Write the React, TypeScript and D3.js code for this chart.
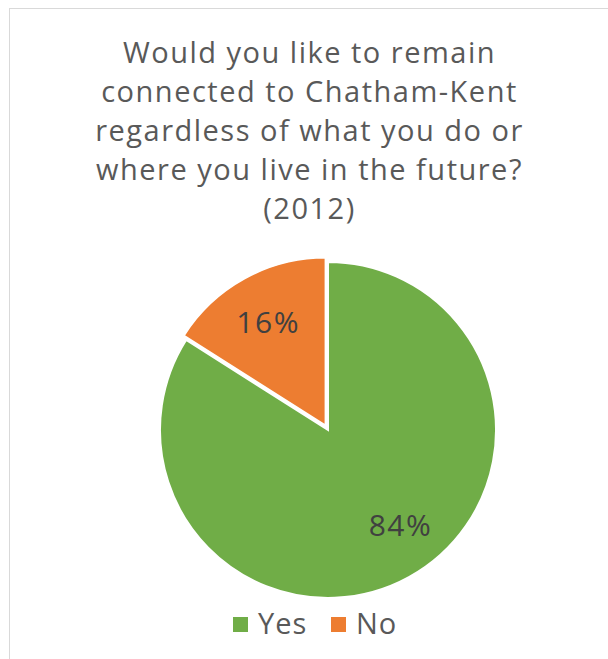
import React from "react";
import * as d3 from "d3";

const categories = ["Yes", "No"];
const values = [84, 16];
const colors = ["#70AD47", "#ED7D31"];
const titleLines = [
  "Would you like to remain",
  "connected to Chatham-Kent",
  "regardless of what you do or",
  "where you live in the future?",
  "(2012)",
];
const explode = [0, 5];
const labelAngleShift = [-0.15, 0];

export default function App() {
  const W = 608, H = 659;
  const cx = 328, cy = 430, r = 168;
  const font = "'Open Sans', sans-serif";
  const pie = d3.pie<number>().sort(null).value((d) => d)(values);
  const arc = d3.arc<d3.PieArcDatum<number>>().innerRadius(0).outerRadius(r);
  const legendX = [233, 331];
  return (
    <svg width={W} height={H} style={{ position: "absolute", left: 0, top: 0 }}>
      <rect x={0} y={0} width={W} height={H} fill="#fff" />
      <rect x={9.5} y={8.5} width={W + 20} height={H + 20} fill="#fff" stroke="#d9d9d9" strokeWidth={1} />
      {titleLines.map((t, i) => (
        <text key={i} x={309.5} y={63 + i * 39} textAnchor="middle" fontFamily={font} fontSize={29} letterSpacing={1.5} fill="#595959">
          {t}
        </text>
      ))}
      {pie.map((p, i) => {
        const mid = (p.startAngle + p.endAngle) / 2;
        const dx = Math.sin(mid) * explode[i];
        const dy = -Math.cos(mid) * explode[i];
        const la = mid + labelAngleShift[i];
        const lr = r * 0.71;
        const lx = Math.sin(la) * lr;
        const ly = -Math.cos(la) * lr;
        return (
          <g key={i} transform={`translate(${cx + dx},${cy + dy})`}>
            <path d={arc(p) || ""} fill={colors[i]} stroke="#fff" strokeWidth={2} />
            <text x={lx} y={ly} textAnchor="middle" dominantBaseline="central" fontFamily={font} fontSize={30} letterSpacing={1.5} fill="#404040">
              {values[i]}%
            </text>
          </g>
        );
      })}
      {categories.map((c, i) => (
        <g key={c} transform={`translate(${legendX[i]},0)`}>
          <rect x={0} y={617} width={15} height={15} fill={colors[i]} />
          <text x={25} y={634} fontFamily={font} fontSize={29} letterSpacing={1} fill="#595959">
            {c}
          </text>
        </g>
      ))}
    </svg>
  );
}
